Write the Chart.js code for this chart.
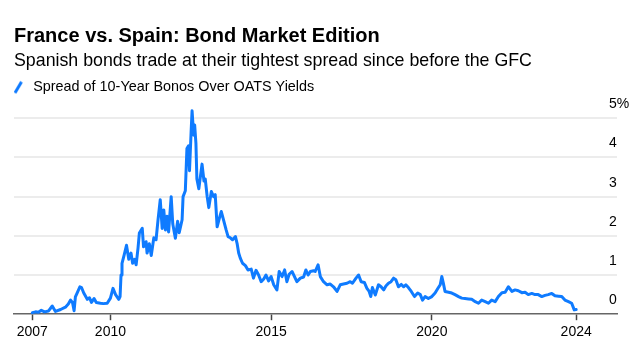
<!DOCTYPE html>
<html><head><meta charset="utf-8">
<script src="https://cdn.jsdelivr.net/npm/chart.js@4.4.1/dist/chart.umd.min.js"></script>
<style>html,body{margin:0;padding:0;background:#fff;} canvas{display:block;}</style>
</head><body>
<canvas id="c" width="642" height="356"></canvas>
<script>
const titleText = 'France vs. Spain: Bond Market Edition';
const subtitleText = 'Spanish bonds trade at their tightest spread since before the GFC';
const seriesName = 'Spread of 10-Year Bonos Over OATS Yields';

// decimal-year dates
const dates = [2007.57,2007.67,2007.76,2007.85,2007.95,2008.07,2008.19,2008.29,2008.45,2008.60,2008.69,2008.76,2008.82,2008.87,2008.91,2008.97,2009.05,2009.10,2009.17,2009.28,2009.35,2009.41,2009.49,2009.56,2009.69,2009.78,2009.90,2010.00,2010.08,2010.16,2010.26,2010.30,2010.33,2010.36,2010.43,2010.50,2010.57,2010.64,2010.69,2010.75,2010.80,2010.86,2010.90,2010.99,2011.03,2011.11,2011.14,2011.21,2011.27,2011.35,2011.42,2011.48,2011.55,2011.61,2011.66,2011.71,2011.76,2011.81,2011.89,2011.94,2012.02,2012.09,2012.14,2012.23,2012.26,2012.33,2012.38,2012.43,2012.46,2012.51,2012.54,2012.59,2012.62,2012.66,2012.69,2012.75,2012.85,2012.91,2012.95,2013.01,2013.06,2013.14,2013.21,2013.26,2013.32,2013.39,2013.45,2013.52,2013.60,2013.66,2013.73,2013.80,2013.89,2013.94,2013.99,2014.04,2014.11,2014.20,2014.28,2014.38,2014.45,2014.53,2014.61,2014.69,2014.77,2014.84,2014.92,2015.00,2015.08,2015.18,2015.25,2015.34,2015.42,2015.49,2015.56,2015.65,2015.73,2015.80,2015.91,2016.01,2016.08,2016.15,2016.22,2016.32,2016.37,2016.46,2016.53,2016.63,2016.74,2016.84,2016.94,2017.05,2017.15,2017.25,2017.36,2017.46,2017.53,2017.64,2017.72,2017.80,2017.90,2017.98,2018.05,2018.10,2018.15,2018.24,2018.34,2018.42,2018.50,2018.57,2018.65,2018.73,2018.81,2018.88,2018.96,2019.05,2019.12,2019.19,2019.27,2019.36,2019.46,2019.56,2019.64,2019.71,2019.79,2019.89,2020.00,2020.10,2020.19,2020.26,2020.31,2020.36,2020.41,2020.52,2020.62,2020.72,2020.83,2020.93,2021.03,2021.14,2021.24,2021.35,2021.45,2021.55,2021.66,2021.76,2021.86,2021.97,2022.07,2022.18,2022.28,2022.38,2022.49,2022.59,2022.69,2022.80,2022.90,2023.00,2023.11,2023.21,2023.31,2023.42,2023.52,2023.62,2023.73,2023.83,2023.94,2024.04,2024.14,2024.25,2024.35,2024.43,2024.49];

// spread, percentage points
const spread = [0.04,0.06,0.05,0.10,0.06,0.08,0.21,0.07,0.12,0.18,0.26,0.36,0.30,0.09,0.44,0.55,0.70,0.68,0.54,0.38,0.42,0.30,0.40,0.30,0.28,0.27,0.28,0.41,0.66,0.50,0.38,0.45,1.00,1.30,1.52,1.76,1.40,1.56,1.30,1.40,1.26,1.70,2.07,2.19,1.72,1.85,1.56,1.80,1.50,1.95,1.90,2.40,2.92,2.19,2.66,2.15,2.50,2.10,3.00,2.30,1.94,2.37,2.08,2.41,3.00,3.15,4.23,4.30,3.66,4.65,5.19,4.57,4.83,4.36,3.45,3.20,3.83,3.40,3.45,3.00,2.72,3.13,3.00,3.05,2.23,2.45,2.62,2.40,2.15,1.98,1.95,1.90,1.98,1.81,1.56,1.43,1.30,1.24,1.13,1.15,0.92,1.12,1.00,0.83,0.90,1.00,0.85,0.96,0.75,0.62,1.09,0.96,1.13,0.83,1.02,1.09,0.95,0.83,0.92,0.95,1.13,1.00,1.09,1.11,1.09,1.26,0.96,0.83,0.75,0.77,0.70,0.58,0.75,0.77,0.79,0.83,0.79,0.92,1.00,0.83,0.81,0.66,0.58,0.45,0.68,0.49,0.75,0.70,0.62,0.72,0.79,0.83,0.92,0.88,0.70,0.76,0.70,0.75,0.68,0.58,0.45,0.54,0.50,0.36,0.45,0.40,0.45,0.54,0.66,0.75,0.96,0.78,0.58,0.56,0.54,0.50,0.45,0.41,0.40,0.39,0.38,0.32,0.28,0.36,0.32,0.28,0.36,0.32,0.45,0.55,0.56,0.70,0.58,0.62,0.60,0.55,0.56,0.50,0.53,0.50,0.50,0.45,0.48,0.50,0.53,0.47,0.46,0.45,0.36,0.32,0.28,0.11,0.12];

const xTickValues = [2007.57, 2010, 2015, 2020, 2024.49];
const xTickLabels = ['2007', '2010', '2015', '2020', '2024'];
const yTickValues = [0, 1, 2, 3, 4, 5];
const yTickLabels = ['0', '1', '2', '3', '4', '5%'];

const BLUE = '#0f7bff';
const FONT = "'Liberation Sans', Arial, Helvetica, sans-serif";
Chart.defaults.font.family = FONT;
Chart.defaults.color = '#000';

// width of widest y label, so digits line up just left of the plot edge
const mctx = document.createElement('canvas').getContext('2d');
mctx.font = '14px ' + FONT;
const widestY = Math.max(...yTickLabels.map(t => mctx.measureText(t).width));
const yPad = widestY - 8;

// legend icon: blue slash
const icon = document.createElement('canvas');
icon.width = 16; icon.height = 14;
(function(){
  const g = icon.getContext('2d');
  g.strokeStyle = BLUE; g.lineWidth = 3; g.lineCap = 'butt';
  g.beginPath(); g.moveTo(1, 12.5); g.lineTo(7.5, 1.5); g.stroke();
})();

new Chart(document.getElementById('c'), {
  type: 'line',
  data: {
    datasets: [{
      label: seriesName,
      data: spread.map((v, i) => ({x: dates[i], y: v})),
      borderColor: BLUE,
      backgroundColor: BLUE,
      borderWidth: 3,
      pointRadius: 0,
      tension: 0,
      borderJoinStyle: 'round',
      borderCapStyle: 'round',
      clip: false
    }]
  },
  options: {
    responsive: false,
    animation: false,
    events: [],
    layout: {padding: {left: 14, right: Math.max(0, 25 - 2 * yPad), top: 0, bottom: 11}},
    plugins: {
      title: {display: true, text: titleText, align: 'start', color: '#000',
        font: {size: 20, weight: 'bold'}, padding: {top: 24, bottom: 0}},
      subtitle: {display: true, text: subtitleText, align: 'start', color: '#000',
        font: {size: 17.8, weight: 'normal'}, padding: {top: 2.8, bottom: 4}},
      legend: {display: true, align: 'start',
        labels: {usePointStyle: true, pointStyle: icon, boxWidth: 8, padding: 4,
          color: '#000', font: {size: 14.4}}},
      tooltip: {enabled: false}
    },
    scales: {
      x: {
        type: 'linear', min: 2007, max: 2025.76,
        afterBuildTicks: s => { s.ticks = xTickValues.map(v => ({value: v})); },
        ticks: {autoSkip: false, maxRotation: 0, padding: 4, color: '#000', font: {size: 14},
          callback: v => xTickLabels[xTickValues.indexOf(v)]},
        grid: {drawOnChartArea: false, drawTicks: true, tickLength: 6, tickColor: '#444', tickWidth: 1.5},
        border: {display: true, color: '#666', width: 1.5}
      },
      y: {
        position: 'right', min: 0, max: 5.35,
        afterBuildTicks: s => { s.ticks = yTickValues.map(v => ({value: v})); },
        ticks: {mirror: true, crossAlign: 'far', padding: yPad, labelOffset: -14,
          color: '#000', font: {size: 14},
          callback: v => yTickLabels[yTickValues.indexOf(v)]},
        grid: {drawTicks: false, lineWidth: 2,
          color: c => (c.tick && c.tick.value === 0) ? 'rgba(0,0,0,0)' : '#ececec'},
        border: {display: false}
      }
    }
  }
});
</script>
</body></html>
